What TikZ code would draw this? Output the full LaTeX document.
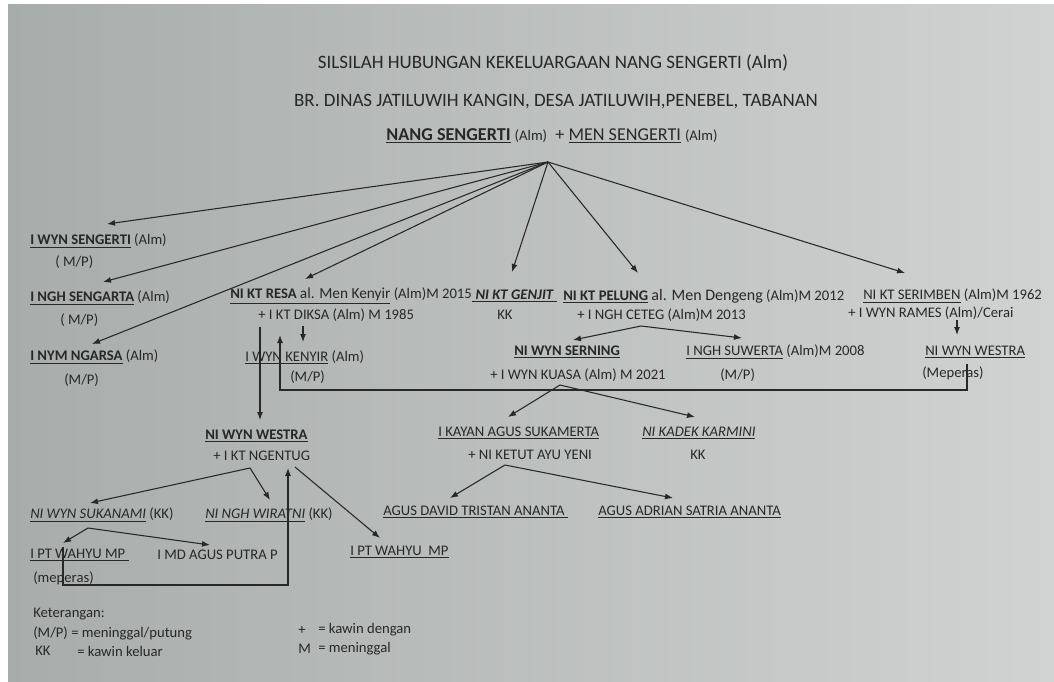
\documentclass[tikz,border=0pt]{standalone}
\usepackage{fontspec}
\setmainfont{Carlito}
\usetikzlibrary{arrows.meta}
\definecolor{ink}{RGB}{40,40,40}
\definecolor{paperL}{RGB}{168,172,170}
\definecolor{paperM}{RGB}{204,207,205}
\definecolor{paperR}{RGB}{208,211,209}
\begin{document}
\begin{tikzpicture}[x=0.75pt,y=-0.75pt,
  lbl/.style={anchor=west, inner sep=0pt, text=ink, font=\fontsize{11}{13}\selectfont},
  ttl/.style={anchor=center, inner sep=0pt, text=ink, font=\fontsize{14.2}{16}\selectfont},
  arr/.style={draw=ink, line width=0.8pt, -{Latex[length=6pt,width=4.5pt]}},
  ln/.style={draw=ink, line width=0.8pt}]
\useasboundingbox (0,0) rectangle (1054,682);
\fill[white] (0,0) rectangle (1054,682);
\shade[left color=paperL, middle color=paperM, right color=paperR] (8,4) rectangle (1054,682);

% titles
\node[ttl] (t1) at (553,63) {SILSILAH HUBUNGAN KEKELUARGAAN NANG SENGERTI (Alm)};
\node[ttl] (t2) at (556,102) {BR. DINAS JATILUWIH KANGIN, DESA JATILUWIH,PENEBEL, TABANAN};
\node[ttl, font=\fontsize{13.6}{16}\selectfont] (t3) at (552,136) {\underline{\textbf{NANG SENGERTI}} {\fontsize{11}{13}\selectfont(Alm)}\ \ + \underline{MEN SENGERTI} {\fontsize{11}{13}\selectfont(Alm)}};
\coordinate (root) at (548,162);

% generation 1
\node[lbl] (n1) at (30,241) {\underline{\textbf{I WYN SENGERTI}} (Alm)};
\node[lbl] (n1b) at (55,262) {( M/P)};
\node[lbl] (n2) at (30,298) {\underline{\textbf{I NGH SENGARTA}} (Alm)};
\node[lbl] (n2b) at (60,320) {( M/P)};
\node[lbl] (n3) at (30,357) {\underline{\textbf{I NYM NGARSA}} (Alm)};
\node[lbl] (n3b) at (64,380) {(M/P)};
\node[lbl] (n4) at (230,296) {\underline{\textbf{NI KT RESA} {\fontsize{11.5}{13}\selectfont al. Men Kenyir}} (Alm)M 2015};
\node[lbl] (n4b) at (258,315) {+ I KT DIKSA (Alm) M 1985};
\node[lbl] (n5) at (472,296) {\underline{\ \textbf{\textit{NI KT GENJIT}}\ }};
\node[lbl] (n5b) at (497,315) {KK};
\node[lbl] (n6) at (563,296) {\underline{\textbf{NI KT PELUNG}} {\fontsize{12}{13}\selectfont al. Men Dengeng} (Alm)M 2012};
\node[lbl] (n6b) at (577,315) {+ I NGH CETEG (Alm)M 2013};
\node[lbl] (n7) at (863,296) {\underline{NI KT SERIMBEN} (Alm)M 1962};
\node[lbl] (n7b) at (848,313) {+ I WYN RAMES (Alm)/Cerai};

% generation 2
\node[lbl] (n8) at (245,357) {\underline{I WYN KENYIR} (Alm)};
\node[lbl] (n8b) at (290,377) {(M/P)};
\node[lbl] (n9) at (514,352) {\underline{\textbf{NI WYN SERNING}}};
\node[lbl] (n9b) at (490,375) {+ I WYN KUASA (Alm) M 2021};
\node[lbl] (n10) at (686,352) {\underline{I NGH SUWERTA} (Alm)M 2008};
\node[lbl] (n10b) at (720,375) {(M/P)};
\node[lbl] (n11) at (925,352) {\underline{NI WYN WESTRA}};
\node[lbl] (n11b) at (922,373) {(Meperas)};
\node[lbl] (n12) at (205,436) {\underline{\textbf{NI WYN WESTRA}}};
\node[lbl] (n12b) at (213,456) {+ I KT NGENTUG};
\node[lbl] (n13) at (438,433) {\underline{I KAYAN AGUS SUKAMERTA}};
\node[lbl] (n13b) at (468,455) {+ NI KETUT AYU YENI};
\node[lbl] (n14) at (642,433) {\underline{\textit{NI KADEK KARMINI}}};
\node[lbl] (n14b) at (690,455) {KK};

% generation 3
\node[lbl] (n15) at (383,512) {\underline{AGUS DAVID TRISTAN ANANTA\ }};
\node[lbl] (n16) at (598,512) {\underline{AGUS ADRIAN SATRIA ANANTA}};
\node[lbl] (n17) at (30,515) {\underline{\textit{NI WYN SUKANAMI}} (KK)};
\node[lbl] (n18) at (205,515) {\underline{\textit{NI NGH WIRATNI}} (KK)};
\node[lbl] (n19) at (30,555) {\underline{I PT WAHYU MP\ }};
\node[lbl] (n19b) at (33,578) {(meperas)};
\node[lbl] (n20) at (157,555) {I MD AGUS PUTRA P};
\node[lbl] (n21) at (350,552) {\underline{I PT WAHYU\ \ MP}};

% legend
\node[lbl] (k0) at (33,614) {Keterangan:};
\node[lbl] (k1) at (33,633) {(M/P) = meninggal/putung};
\node[lbl] (k2) at (35,651) {KK};
\node[lbl] (k2b) at (77,651) {= kawin keluar};
\node[lbl] (k3) at (298,630) {+};
\node[lbl] (k3b) at (318,630) {= kawin dengan};
\node[lbl] (k4) at (298,649) {M};
\node[lbl] (k4b) at (318,649) {= meninggal};

% arrow end coordinates
\coordinate (e1) at (107,224);
\coordinate (e2) at (103,282);
\coordinate (e3) at (92,344);
\coordinate (e4) at (305,279);
\coordinate (e5) at (512,272);
\coordinate (e6) at (638,273);
\coordinate (e7) at (905,273);

\foreach \e in {e1,e2,e3,e4,e5,e6,e7} \draw[arr] (root) -- (\e);

% Diksa -> Kenyir
\coordinate (d1) at (303,326); \coordinate (d2) at (303,342);
\draw[arr] (d1) -- (d2);
% Resa -> Westra (middle)
\coordinate (r1) at (260,327); \coordinate (r2) at (260,420);
\draw[arr] (r1) -- (r2);
% Westra (right) meperas link back
\coordinate (m1) at (967,364); \coordinate (m2) at (967,390);
\coordinate (m3) at (280,390); \coordinate (m4) at (280,335);
\draw[arr] (m1) -- (m2) -- (m3) -- (m4);
% Rames -> Westra (right)
\coordinate (s1) at (957,320); \coordinate (s2) at (957,335);
\draw[arr] (s1) -- (s2);
% Ceteg children
\coordinate (jc) at (641,326);
\coordinate (c1) at (573,340); \coordinate (c2) at (742,338);
\draw[arr] (jc) -- (c1);
\draw[arr] (jc) -- (c2);
% Kuasa children
\coordinate (jk) at (560,385);
\coordinate (k5) at (508,417); \coordinate (k6) at (695,417);
\draw[arr] (jk) -- (k5);
\draw[arr] (jk) -- (k6);
% Yeni children
\coordinate (jy) at (505,465);
\coordinate (y1) at (450,498); \coordinate (y2) at (673,498);
\draw[arr] (jy) -- (y1);
\draw[arr] (jy) -- (y2);
% Ngentug children
\coordinate (jn) at (250,468);
\coordinate (g1) at (90,503); \coordinate (g2) at (270,500);
\draw[arr] (jn) -- (g1);
\draw[arr] (jn) -- (g2);
\coordinate (jw) at (295,467); \coordinate (g3) at (380,538);
\draw[arr] (jw) -- (g3);
% Wahyu meperas link back
\coordinate (w1) at (63,547); \coordinate (w2) at (63,585);
\coordinate (w3) at (288,585); \coordinate (w4) at (288,468);
\draw[arr] (w1) -- (w2) -- (w3) -- (w4);
% Sukanami children
\coordinate (ja) at (88,528);
\coordinate (a1) at (63,543); \coordinate (a2) at (210,545);
\draw[arr] (ja) -- (a1);
\draw[arr] (ja) -- (a2);
\end{tikzpicture}
\end{document}
